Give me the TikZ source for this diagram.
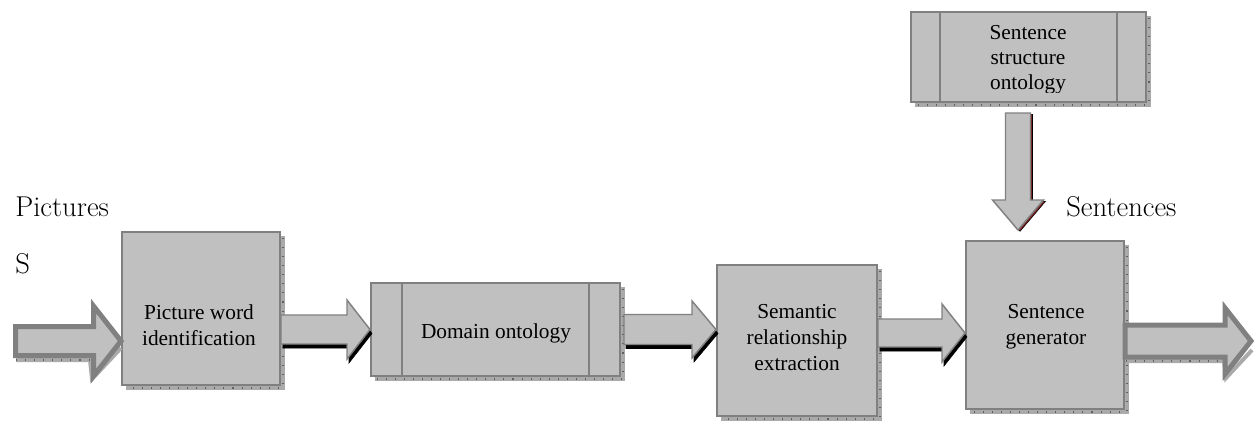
\documentclass[tikz,border=0pt]{standalone}
\usepackage{fontspec}
\setmainfont{Liberation Serif}
\newfontfamily\labelfont{Latin Modern Roman}
\usetikzlibrary{calc}

\definecolor{boxfill}{HTML}{C0C0C0}
\definecolor{boxline}{HTML}{808080}
\definecolor{shadefill}{HTML}{AAAAAA}
\definecolor{shadetick}{HTML}{606060}
\definecolor{arrowshadow}{HTML}{7A1F1F}

% textured drop shadow along the right and bottom edges of a box
\newcommand{\boxshade}[1]{%
  \fill[shadefill] ($(#1.north east)+(0,5)$) rectangle ($(#1.south east)+(4,4)$);
  \fill[shadefill] ($(#1.south west)+(5,0)$) rectangle ($(#1.south east)+(4,4)$);
  \draw[shadetick, line width=2.2pt, dash pattern=on 0.8pt off 6pt]
    ($(#1.north east)+(2,7)$) -- ($(#1.south east)+(2,2)$) -- ($(#1.south west)+(7,2)$);
}

% horizontal block arrow: style, start, tip, shaft half width, head half width, head length
\newcommand{\hblock}[6]{%
  \draw[#1] ($(#2)+(0,-#4)$) -- ($(#3)+(-#6,-#4)$) -- ($(#3)+(-#6,-#5)$) -- (#3)
    -- ($(#3)+(-#6,#5)$) -- ($(#3)+(-#6,#4)$) -- ($(#2)+(0,#4)$) -- cycle;
}

\tikzset{
  procbox/.style={draw=boxline, fill=boxfill, line width=1.5pt, inner sep=0pt},
  boxtext/.style={font=\fontsize{16}{19.5}\selectfont, align=center, text=black},
  sidetext/.style={font=\labelfont\fontsize{21.5}{26}\selectfont, anchor=base west, inner sep=0pt},
  blockarr/.style={draw=boxline, fill=boxfill, line width=1.1pt, line join=miter},
  blockshadow/.style={fill=black, transform canvas={xshift=1.5pt, yshift=-3pt}},
  hollowarr/.style={draw=boxline, fill=boxfill, line width=3.75pt, line join=miter},
}

\begin{document}
\begin{tikzpicture}[x=0.75pt, y=-0.75pt]
  \useasboundingbox (0,0) rectangle (1257,421);
  \fill[white] (0,0) rectangle (1257,421);

  % side labels
  \node[sidetext] (lpic) at (15,216) {Pictures};
  \node[sidetext] (ls) at (15,273) {S};
  \node[sidetext] (lsent) at (1066,216) {Sentences};

  % process boxes
  \node[procbox, minimum width=118.5pt, minimum height=114.75pt] (b1) at (201,308.5) {};
  \node[procbox, minimum width=186.75pt, minimum height=69.75pt] (b2) at (495.5,329.5) {};
  \node[procbox, minimum width=120pt, minimum height=113.25pt] (b3) at (797,340.5) {};
  \node[procbox, minimum width=118.5pt, minimum height=126pt] (b4) at (1045,325) {};
  \node[procbox, minimum width=176.25pt, minimum height=67.5pt] (b5) at (1028.5,57) {};

  \boxshade{b1}
  \boxshade{b2}
  \boxshade{b3}
  \boxshade{b4}
  \boxshade{b5}

  % side bars of the two ontology stores
  \draw[boxline, line width=1.5pt] (402,283) -- (402,376) (589,283) -- (589,376);
  \draw[boxline, line width=1.5pt] (940,12) -- (940,102) (1117,12) -- (1117,102);

  % box labels
  \node[boxtext] (t1) at (199,325) {Picture word\\identification};
  \node[boxtext] (t2) at (496,333) {Domain ontology};
  \node[boxtext] (t3) at (797,338) {Semantic\\relationship\\extraction};
  \node[boxtext] (t4) at (1046,327) {Sentence\\generator};
  \begin{scope}
    \clip (942,14) rectangle (1115,92);
    \node[boxtext, font=\fontsize{16}{18.75}\selectfont] (t5) at (1028,60)
      {Sentence\\structure\\ontology};
  \end{scope}

  % free ends of the input, output and feedback arrows
  \coordinate (in) at (15.5,341);
  \coordinate (out) at (1251,341);
  \coordinate (dtip) at (1018,230);
  \coordinate (t34) at ($(b4.west)+(0,8)$);

  % input arrow with textured shadow
  \draw[shadefill, line width=3pt] (16,360) -- (90,360) -- (92,379) -- (121,348);
  \draw[shadetick, line width=2.2pt, dash pattern=on 0.8pt off 6pt] (16,360) -- (90,360);
  \hblock{hollowarr}{in}{b1.west |- in}{14.5}{35}{27.5}

  % output arrow with textured shadow
  \draw[shadefill, line width=3pt] (1126,361) -- (1224,361) -- (1226,378) -- (1252,350);
  \draw[shadetick, line width=2.2pt, dash pattern=on 0.8pt off 6pt] (1126,361) -- (1224,361);
  \hblock{hollowarr}{b4.east |- out}{out}{16}{33}{26}

  % arrows between boxes, with black drop shadows
  \hblock{blockshadow}{b1.east |- b2.west}{b2.west}{14.5}{29.5}{23}
  \hblock{blockarr}{b1.east |- b2.west}{b2.west}{14.5}{29.5}{23}

  \hblock{blockshadow}{$(b2.east)+(3,0)$}{b3.west |- b2.east}{15}{28.5}{24}
  \hblock{blockarr}{$(b2.east)+(3,0)$}{b3.west |- b2.east}{15}{28.5}{24}

  \hblock{blockshadow}{b3.east |- t34}{t34}{14}{29}{23}
  \hblock{blockarr}{b3.east |- t34}{t34}{14}{29}{23}

  % arrow from the sentence structure ontology down to the generator
  \draw[fill=arrowshadow, transform canvas={xshift=1.5pt, yshift=-1pt}]
    ($(dtip |- b5.south)+(-12.5,10)$) -- ($(dtip)+(-12.5,-30)$) -- ($(dtip)+(-25.5,-30)$) -- (dtip)
    -- ($(dtip)+(25.5,-30)$) -- ($(dtip)+(12.5,-30)$) -- ($(dtip |- b5.south)+(12.5,10)$) -- cycle;
  \draw[blockarr]
    ($(dtip |- b5.south)+(-12.5,10)$) -- ($(dtip)+(-12.5,-30)$) -- ($(dtip)+(-25.5,-30)$) -- (dtip)
    -- ($(dtip)+(25.5,-30)$) -- ($(dtip)+(12.5,-30)$) -- ($(dtip |- b5.south)+(12.5,10)$) -- cycle;
\end{tikzpicture}
\end{document}
